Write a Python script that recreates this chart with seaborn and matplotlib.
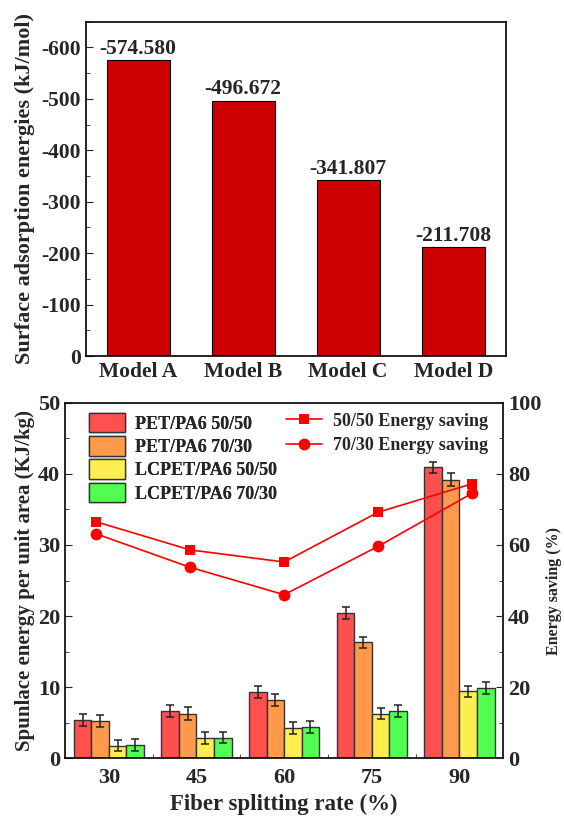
import numpy as np
import pandas as pd
import matplotlib
matplotlib.use('Agg')
import seaborn as sns
import matplotlib.pyplot as plt
from matplotlib.ticker import MultipleLocator, FixedLocator

# top panel data
models = ['Model A', 'Model B', 'Model C', 'Model D']
adsorption = [-574.580, -496.672, -341.807, -211.708]

# bottom panel data
rates = [30, 45, 60, 75, 90]
samples = ['PET/PA6 50/50', 'PET/PA6 70/30', 'LCPET/PA6 50/50', 'LCPET/PA6 70/30']
energy_pet_5050 = [5.4, 6.7, 9.3, 20.4, 40.9]
energy_pet_7030 = [5.2, 6.3, 8.2, 16.3, 39.2]
energy_lc_5050 = [1.8, 2.8, 4.2, 6.3, 9.4]
energy_lc_7030 = [1.9, 2.9, 4.4, 6.6, 9.9]
err_pet_5050 = [0.85, 0.85, 0.85, 0.85, 0.8]
err_pet_7030 = [0.85, 0.85, 0.85, 0.8, 0.85]
err_lc_5050 = [0.8, 0.85, 0.85, 0.8, 0.8]
err_lc_7030 = [0.85, 0.8, 0.8, 0.85, 0.8]
saving_5050 = [66.5, 58.6, 55.2, 69.2, 77.2]
saving_7030 = [63.1, 53.7, 46.0, 59.6, 74.5]

bar_colors = ['#FF5050', '#FF9A4C', '#FFEE50', '#50FF50']

sns.set_style('ticks')
plt.rcParams['font.family'] = ['Liberation Serif', 'DejaVu Serif']
plt.rcParams['font.weight'] = 'bold'
plt.rcParams['axes.unicode_minus'] = False
plt.rcParams['axes.linewidth'] = 1.2

fig = plt.figure(figsize=(5.64, 8.19), dpi=100)

# ---------- top: adsorption energies ----------
ax1 = fig.add_axes([0.1516, 0.5653, 0.745, 0.4082])
top_df = pd.DataFrame({'model': models, 'energy': adsorption})
sns.barplot(data=top_df, x='model', y='energy', color='#CC0000', width=0.6,
            edgecolor='black', linewidth=0.8, saturation=1, ax=ax1)
ax1.set_ylim(0, -650)
ax1.set_xlim(-0.5, 3.5)
ax1.yaxis.set_major_locator(MultipleLocator(100))
ax1.yaxis.set_minor_locator(MultipleLocator(50))
ax1.tick_params(axis='y', which='both', direction='in', labelsize=15.5)
ax1.tick_params(axis='y', which='major', length=5)
ax1.tick_params(axis='y', which='minor', length=3)
ax1.tick_params(axis='x', length=0, labelsize=15.5, pad=4)
for lab in ax1.get_xticklabels() + ax1.get_yticklabels():
    lab.set_fontweight('bold')
ax1.set_xlabel('')
ax1.set_ylabel('Surface adsorption energies (kJ/mol)', fontsize=16, fontweight='bold', labelpad=4)
ax1.bar_label(ax1.containers[0], fmt='%.3f', padding=1, fontsize=15.5, fontweight='bold')
for s in ax1.spines.values():
    s.set_visible(True)
    s.set_color('black')

# ---------- bottom: spunlace energy + energy saving ----------
ax2 = fig.add_axes([0.1152, 0.0741, 0.7772, 0.4342])
energy_cols = [energy_pet_5050, energy_pet_7030, energy_lc_5050, energy_lc_7030]
err_cols = [err_pet_5050, err_pet_7030, err_lc_5050, err_lc_7030]
rows = []
for name, vals in zip(samples, energy_cols):
    for r, v in zip(rates, vals):
        rows.append({'rate': str(r), 'sample': name, 'energy': v})
bot_df = pd.DataFrame(rows)
sns.barplot(data=bot_df, x='rate', y='energy', hue='sample', hue_order=samples,
            palette=bar_colors, saturation=1, edgecolor='#333333', linewidth=1,
            width=0.8, errorbar=None, legend=False, ax=ax2)
for cont, errs in zip(ax2.containers, err_cols):
    xs = [b.get_x() + b.get_width() / 2 for b in cont]
    ys = [b.get_height() for b in cont]
    ax2.errorbar(xs, ys, yerr=errs, fmt='none', ecolor='#222222', elinewidth=1.1,
                 capsize=3, capthick=1.1, zorder=5)
ax2.set_ylim(0, 50)
ax2.set_xlim(-0.5, 4.5)
ax2.yaxis.set_major_locator(MultipleLocator(10))
ax2.yaxis.set_minor_locator(MultipleLocator(5))
ax2.xaxis.set_minor_locator(FixedLocator([0.5, 1.5, 2.5, 3.5]))
ax2.tick_params(axis='y', which='both', direction='in', labelsize=16)
ax2.tick_params(axis='y', which='major', length=5)
ax2.tick_params(axis='y', which='minor', length=3)
ax2.tick_params(axis='x', which='major', length=0, labelsize=16, pad=7)
ax2.tick_params(axis='x', which='minor', direction='in', length=3)
for lab in ax2.get_xticklabels() + ax2.get_yticklabels():
    lab.set_fontweight('bold')
ax2.set_xlabel('Fiber splitting rate (%)', fontsize=16.5, fontweight='bold', labelpad=4)
ax2.set_ylabel('Spunlace energy per unit area (KJ/kg)', fontsize=15, fontweight='bold', labelpad=2)
for s in ax2.spines.values():
    s.set_visible(True)
    s.set_color('black')

leg1 = ax2.legend(ax2.containers, samples, loc='upper left', bbox_to_anchor=(0.055, 0.972),
                  frameon=False, handlelength=2.0, handleheight=1.3, labelspacing=0.19,
                  handletextpad=0.55, borderpad=0, borderaxespad=0,
                  prop={'family': 'Liberation Serif', 'weight': 'bold', 'size': 13})
ax2.add_artist(leg1)

ax3 = fig.add_axes(ax2.get_position(), frameon=False)
sns.lineplot(x=rates, y=saving_5050, ax=ax3, color='#FF0000', marker='s', markersize=7.5,
             markeredgewidth=0, linewidth=1.2, label='50/50 Energy saving')
sns.lineplot(x=rates, y=saving_7030, ax=ax3, color='#FF0000', marker='o', markersize=8.5,
             markeredgewidth=0, linewidth=1.2, label='70/30 Energy saving')
ax3.set_xlim(25, 95)
ax3.set_ylim(0, 100)
ax3.xaxis.set_visible(False)
ax3.yaxis.tick_right()
ax3.yaxis.set_label_position('right')
ax3.yaxis.set_major_locator(MultipleLocator(20))
ax3.yaxis.set_minor_locator(MultipleLocator(10))
ax3.tick_params(axis='y', which='both', direction='in', labelsize=16)
ax3.tick_params(axis='y', which='major', length=5)
ax3.tick_params(axis='y', which='minor', length=3)
for lab in ax3.get_yticklabels():
    lab.set_fontweight('bold')
ax3.set_ylabel('Energy saving (%)', fontsize=11.5, fontweight='bold')
ax3.yaxis.set_label_coords(1.098, 0.47)
ax3.legend(loc='upper left', bbox_to_anchor=(0.505, 0.972), frameon=False,
           handlelength=2.0, labelspacing=0.4, handletextpad=0.6, borderpad=0,
           borderaxespad=0, prop={'family': 'Liberation Serif', 'weight': 'bold', 'size': 13})

fig.savefig('out.png', dpi=100)
